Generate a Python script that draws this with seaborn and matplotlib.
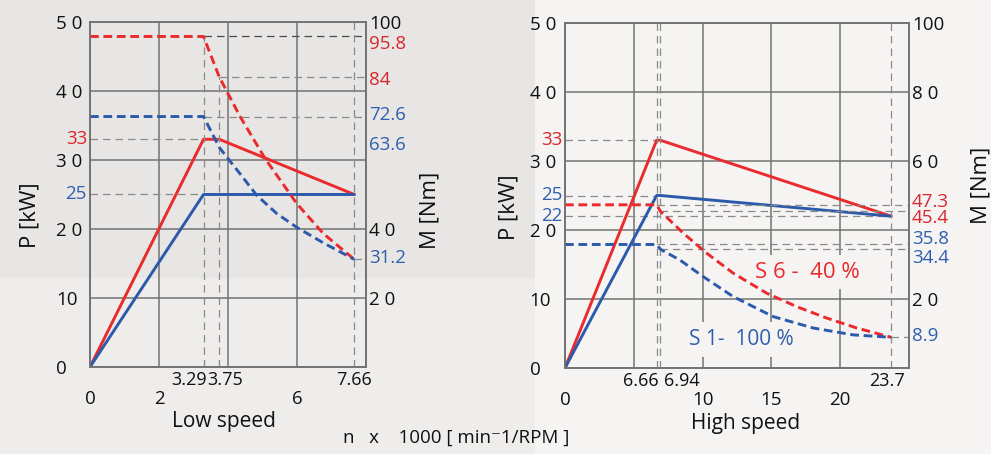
import matplotlib
matplotlib.use("Agg")
import matplotlib.pyplot as plt
import matplotlib.transforms as mtransforms
from matplotlib.patches import Rectangle
import seaborn as sns

# ---------------- data ----------------
# Low speed
ls_speed_red = [0, 3.29, 3.75, 7.66]
ls_power_red = [0, 33, 33, 25]
ls_speed_blue = [0, 3.29, 3.75, 7.66]
ls_power_blue = [0, 25, 25, 25]
ls_tq_speed_red = [0, 3.29, 3.75, 4.35, 5.07, 5.99, 6.76, 7.66]
ls_tq_red = [95.8, 95.8, 84.0, 72.6, 60.5, 47.4, 38.7, 31.2]
ls_tq_speed_blue = [0, 3.29, 3.75, 4.35, 4.83, 5.41, 5.99, 6.76, 7.66]
ls_tq_blue = [72.6, 72.6, 63.6, 56.0, 49.8, 44.5, 40.5, 36.0, 31.2]

# High speed
hs_speed_red = [0, 6.66, 6.94, 23.7]
hs_power_red = [0, 33, 33, 22]
hs_speed_blue = [0, 6.66, 6.94, 23.7]
hs_power_blue = [0, 25, 25, 22]
hs_tq_speed_red = [0, 6.66, 6.94, 8.59, 10.29, 12.22, 14.65, 16.83, 19.0, 21.2, 23.7]
hs_tq_red = [47.3, 47.3, 45.4, 39.1, 33.3, 27.5, 21.7, 17.8, 14.5, 11.6, 8.9]
hs_tq_speed_blue = [0, 6.66, 6.94, 8.35, 10.04, 12.22, 15.13, 18.03, 20.94, 23.7]
hs_tq_blue = [35.8, 35.8, 34.4, 31.3, 26.5, 20.7, 14.9, 11.6, 9.6, 8.9]

# ticks / labels
p_ticks = [0, 10, 20, 30, 40, 50]
p_ticklabels = ["0", "10", "2 0", "3 0", "4 0", "5 0"]
ls_xticks = [0, 2, 4, 6, 8]
ls_xticklabels = ["0", "2", "", "6", ""]
hs_xticks = [0, 5, 10, 15, 20, 25]
hs_xticklabels = ["0", "", "10", "15", "20", ""]
ls_m_ticks = [20, 40, 100]
ls_m_ticklabels = ["2 0", "4 0", "100"]
hs_m_ticks = [20, 60, 80, 100]
hs_m_ticklabels = ["2 0", "6 0", "8 0", "100"]

ls_speed_marks = [3.29, 3.75, 7.66]
ls_speed_mark_labels = ["3.29", "3.75", "7.66"]
hs_speed_marks = [6.66, 6.94, 23.7]
hs_speed_mark_labels = ["6.66", "6.94", "23.7"]

ls_p_notes = [33, 25]
ls_m_notes = [95.8, 84, 72.6, 63.6, 31.2]
hs_p_notes = [33, 25, 22]
hs_m_notes = [47.3, 45.4, 35.8, 34.4, 8.9]

RED = "#ea2a2c"
BLUE = "#2c5aab"
TRED = "#d8272d"
TBLUE = "#2f5fae"
GRID = "#737373"
REF = "#8a8a8a"

sns.set_theme(style="white")
plt.rcParams["font.family"] = ["Open Sans", "DejaVu Sans"]
NARROW = ["Liberation Sans Narrow", "Open Sans", "DejaVu Sans"]

W, H = 991, 454
fig = plt.figure(figsize=(W / 100, H / 100), dpi=100)
fig.patch.set_facecolor("#efedeb")
fig.add_artist(Rectangle((0, 1 - 278 / H), 535 / W, 278 / H, transform=fig.transFigure,
                         facecolor="#e8e6e4", edgecolor="none", zorder=-10))
fig.add_artist(Rectangle((535 / W, 0), 1 - 535 / W, 1, transform=fig.transFigure,
                         facecolor="#f5f4f3", edgecolor="none", zorder=-10))


def px_axes(x0, x1, ytop, ybot):
    return fig.add_axes([x0 / W, 1 - ybot / H, (x1 - x0) / W, (ybot - ytop) / H])


def line(ax, x, y, color, dashed=False):
    kw = dict(color=color, lw=2.1, sort=False, estimator=None, ax=ax, legend=False)
    if dashed:
        kw["linestyle"] = (0, (3.0, 1.6))
    sns.lineplot(x=x, y=y, **kw)


def ref_h(ax, y, x0, x1, color=REF):
    ax.plot([x0, x1], [y, y], color=color, lw=0.9, ls=(0, (6, 4)), zorder=1.6)


def ref_v(ax, x, y0, y1, color=REF):
    ax.plot([x, x], [y0, y1], color=color, lw=0.9, ls=(0, (6, 4)), zorder=1.6)


def setup(ax, ax2, xmax, xticks, xticklabels, m_ticks, m_ticklabels, lpad):
    ax.set_xlim(0, xmax)
    ax.set_ylim(0, 50)
    ax2.set_ylim(0, 100)
    ax.set_facecolor("none")
    ax.set_xticks(xticks, xticklabels)
    ax.set_yticks(p_ticks, p_ticklabels)
    ax2.set_yticks(m_ticks, m_ticklabels)
    ax.tick_params(axis="both", length=0, labelsize=13.5, colors="#111111")
    ax.tick_params(axis="y", pad=lpad)
    ax.tick_params(axis="x", pad=16.5)
    ax2.tick_params(axis="y", length=0, labelsize=13.5, pad=2.5, colors="#111111")
    for lbl in ax.get_yticklabels():
        lbl.set_horizontalalignment("left")
    ax.grid(True, color=GRID, lw=1.1)
    ax.set_axisbelow(True)
    ax2.grid(False)
    for a in (ax, ax2):
        for s in a.spines.values():
            s.set_color(GRID)
            s.set_linewidth(1.2)
        a.set_xlabel("")
        a.set_ylabel("")


def marks(ax, xs, labels, has, dxs):
    for x, lab, ha, dx in zip(xs, labels, has, dxs):
        tr = mtransforms.blended_transform_factory(ax.transData, ax.transAxes) + \
            mtransforms.ScaledTranslation(dx / 100, -4 / 100, fig.dpi_scale_trans)
        ax.text(x, 0, lab, transform=tr, ha=ha, va="top", fontsize=13,
                family=NARROW, color="#111111")


def left_notes(ax, ys, labels, colors):
    tr = mtransforms.blended_transform_factory(ax.transAxes, ax.transData) + \
        mtransforms.ScaledTranslation(-3 / 100, 0, fig.dpi_scale_trans)
    for y, lab, c in zip(ys, labels, colors):
        ax.text(0, y, lab, transform=tr, ha="right", va="center", fontsize=13.5, color=c)


def right_notes(ax2, ys, labels, colors):
    tr = mtransforms.blended_transform_factory(ax2.transAxes, ax2.transData) + \
        mtransforms.ScaledTranslation(3 / 100, 0, fig.dpi_scale_trans)
    for y, lab, c in zip(ys, labels, colors):
        ax2.text(1, y, lab, transform=tr, ha="left", va="center", fontsize=13.5, color=c)


# ---------------- Low speed panel ----------------
axL = px_axes(90, 366, 22, 367)
axL2 = axL.twinx()
line(axL, ls_speed_red, ls_power_red, RED)
line(axL, ls_speed_blue, ls_power_blue, BLUE)
line(axL2, ls_tq_speed_red, ls_tq_red, RED, dashed=True)
line(axL2, ls_tq_speed_blue, ls_tq_blue, BLUE, dashed=True)
setup(axL, axL2, 8, ls_xticks, ls_xticklabels, ls_m_ticks, ls_m_ticklabels, 24.5)

ref_h(axL, ls_p_notes[0], 0, ls_speed_marks[0])
ref_h(axL, ls_p_notes[1], 0, ls_speed_marks[0])
ref_h(axL2, ls_m_notes[0], ls_speed_marks[0], 8, color="#4a4a4a")
ref_h(axL2, ls_m_notes[1], ls_speed_marks[1], 8)
ref_h(axL2, ls_m_notes[2], ls_speed_marks[0], 8)
ref_h(axL2, ls_m_notes[4], ls_speed_marks[2], 8)
ref_v(axL2, ls_speed_marks[0], 0, ls_m_notes[0])
ref_v(axL2, ls_speed_marks[1], 0, ls_m_notes[1])
ref_v(axL2, ls_speed_marks[2], 0, 100)

marks(axL, ls_speed_marks, ls_speed_mark_labels, ["right", "left", "center"], [3.5, -12, 0])
left_notes(axL, ls_p_notes, [str(v) for v in ls_p_notes], [TRED, TBLUE])
right_notes(axL2, [93.6, 83.2, 73.0, 64.3, 31.5], ["95.8", "84", "72.6", "63.6", "31.2"],
            [TRED, TRED, TBLUE, TBLUE, TBLUE])

# ---------------- High speed panel ----------------
axR = px_axes(565, 909, 23, 368)
axR2 = axR.twinx()
line(axR, hs_speed_red, hs_power_red, RED)
line(axR, hs_speed_blue, hs_power_blue, BLUE)
line(axR2, hs_tq_speed_red, hs_tq_red, RED, dashed=True)
line(axR2, hs_tq_speed_blue, hs_tq_blue, BLUE, dashed=True)
setup(axR, axR2, 25, hs_xticks, hs_xticklabels, hs_m_ticks, hs_m_ticklabels, 25.5)

ref_h(axR, hs_p_notes[0], 0, hs_speed_marks[0])
ref_h(axR, hs_p_notes[1], 0, hs_speed_marks[0])
ref_h(axR, hs_p_notes[2], 0, hs_speed_marks[2])
ref_h(axR2, hs_m_notes[0], hs_speed_marks[0], 25)
ref_h(axR2, hs_m_notes[1], hs_speed_marks[1], 25)
ref_h(axR2, hs_m_notes[2], hs_speed_marks[0], 25)
ref_h(axR2, hs_m_notes[3], hs_speed_marks[1], 25)
ref_h(axR2, hs_m_notes[4], hs_speed_marks[2], 25)
for xm in hs_speed_marks:
    ref_v(axR2, xm, 0, 100)

marks(axR, hs_speed_marks, hs_speed_mark_labels, ["right", "left", "center"], [2, 4, -4])
left_notes(axR, hs_p_notes, [str(v) for v in hs_p_notes], [TRED, TBLUE, TBLUE])
right_notes(axR2, [48.2, 43.4, 37.3, 31.8, 9.2], ["47.3", "45.4", "35.8", "34.4", "8.9"],
            [TRED, TRED, TBLUE, TBLUE, TBLUE])

axR.text(17.6, 13.9, "S 6 -  40 %", color=RED, fontsize=16, ha="center", va="center",
         zorder=1.5, bbox=dict(facecolor="#f5f4f3", edgecolor="none", pad=5))
axR.text(12.8, 4.1, "S 1-  100 %", color=TBLUE, fontsize=15, ha="center", va="center",
         zorder=1.5, bbox=dict(facecolor="#f5f4f3", edgecolor="none", pad=5))

# ---------------- axis titles ----------------
def ftext(x, y, s, **kw):
    fig.text(x / W, 1 - y / H, s, ha="center", va="center", color="#111111", **kw)


ftext(30, 215, "P [kW]", fontsize=16, rotation=90)
ftext(509, 207, "P [kW]", fontsize=16, rotation=90)
ftext(430, 210, "M [Nm]", fontsize=16, rotation=90)
ftext(981, 185, "M [Nm]", fontsize=16, rotation=90)
ftext(224, 421, "Low speed", fontsize=15)
ftext(746, 423, "High speed", fontsize=15)
ftext(456, 438, "n   x    1000 [ min\u207b1/RPM ]", fontsize=13.5)

fig.savefig("out.png", dpi=100, facecolor=fig.get_facecolor())
